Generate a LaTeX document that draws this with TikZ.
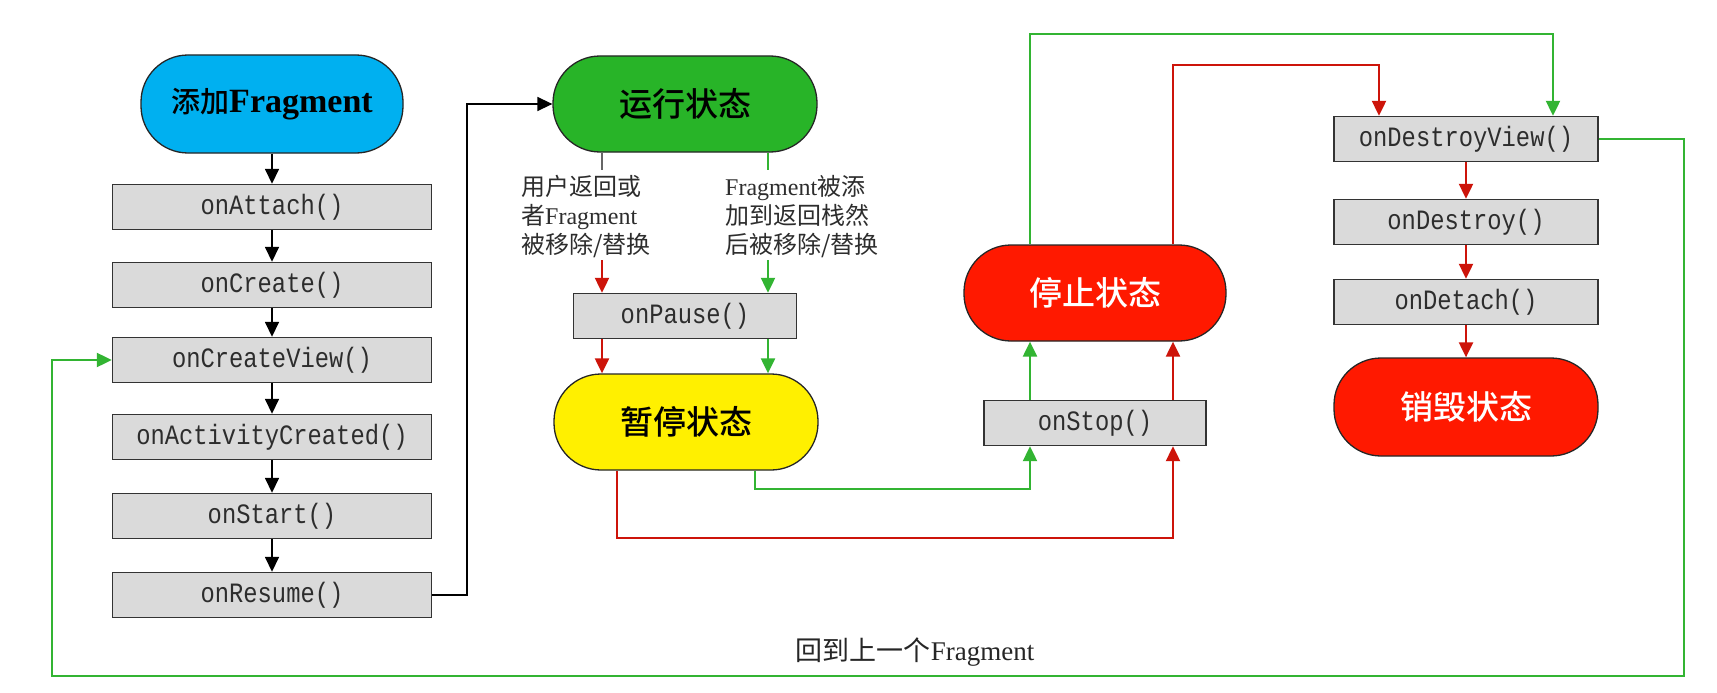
\documentclass[tikz,border=0pt]{standalone}
\usepackage{fontspec}
\usepackage{graphicx}
\setmainfont{Liberation Serif}
\newfontfamily\cjk{Noto Sans CJK SC}
\newfontfamily\cjkm{Noto Sans CJK SC Medium}
\newfontfamily\monof{Liberation Mono}
\usetikzlibrary{arrows.meta}
\definecolor{cyanfill}{RGB}{0,176,240}
\definecolor{greenfill}{RGB}{40,180,40}
\definecolor{yellowfill}{RGB}{255,240,0}
\definecolor{redfill}{RGB}{255,25,0}
\definecolor{redline}{RGB}{205,20,10}
\definecolor{greenline}{RGB}{50,180,50}
\definecolor{boxgray}{RGB}{218,218,218}
\definecolor{txtgray}{RGB}{45,45,45}
\newcommand{\mtx}[1]{\scalebox{0.85}[1]{#1}}
\begin{document}
\begin{tikzpicture}[x=1pt,y=-1pt,
 state/.style={rectangle, rounded corners=47pt, draw=black!85, line width=1.3pt,
   minimum width=264pt, minimum height=96pt, inner sep=0pt,
   font=\cjkm\fontsize{33}{33}\selectfont},
 method/.style={rectangle, draw=black!80, fill=boxgray, line width=1.4pt,
   minimum height=45pt, inner sep=0pt, text=txtgray,
   font=\monof\fontsize{28}{28}\selectfont},
 tip/.style={-{Triangle[length=15pt,width=14pt]}},
 blk/.style={draw=black, line width=1.6pt},
 rd/.style={draw=redline, line width=2.2pt},
 gr/.style={draw=greenline, line width=2.2pt},
 gy/.style={draw=black!60, line width=1.6pt},
 lbl/.style={align=left, inner sep=0pt, text=txtgray, font=\fontsize{24}{29}\selectfont},
]
\useasboundingbox (0,0) rectangle (1717,693);
\fill[white] (0,0) rectangle (1717,693);

% left column
\node[state, fill=cyanfill, minimum width=262pt, minimum height=98pt] (add) at (272,104)
  {{\fontsize{29}{29}\selectfont 添加}{\rmfamily\bfseries\fontsize{34}{34}\selectfont Fragment}};
\node[method, minimum width=319pt] (oat) at (272,207) {\mtx{onAttach()}};
\node[method, minimum width=319pt] (ocr) at (272,285) {\mtx{onCreate()}};
\node[method, minimum width=319pt] (ocv) at (272,360) {\mtx{onCreateView()}};
\node[method, minimum width=319pt] (oac) at (272,437) {\mtx{onActivityCreated()}};
\node[method, minimum width=319pt] (ost) at (272,516) {\mtx{onStart()}};
\node[method, minimum width=319pt] (ores) at (272,595) {\mtx{onResume()}};

% middle
\node[state, fill=greenfill] (run) at (685,104) {运行状态};
\node[method, minimum width=223pt] (opa) at (685,316) {\mtx{onPause()}};
\node[state, fill=yellowfill] (pause) at (686,422) {暂停状态};
\node[lbl, anchor=north west] (l1) at (521,175)
  {{\cjk 用户返回或}\\{\cjk 者}Fragment\\{\cjk 被移除/替换}};
\node[lbl, anchor=north west] (l2) at (725,175)
  {Fragment{\cjk 被添}\\{\cjk 加到返回栈然}\\{\cjk 后被移除/替换}};

% stop
\node[state, fill=redfill, text=white, minimum width=262pt] (stop) at (1095,293) {停止状态};
\node[method, minimum width=222pt] (osp) at (1095,423) {\mtx{onStop()}};

% right column
\node[method, minimum width=264pt] (odv) at (1466,139) {\mtx{onDestroyView()}};
\node[method, minimum width=264pt] (ody) at (1466,222) {\mtx{onDestroy()}};
\node[method, minimum width=264pt] (odt) at (1466,302) {\mtx{onDetach()}};
\node[state, fill=redfill, text=white, minimum height=98pt] (dead) at (1466,407) {销毁状态};

\node[inner sep=0pt, text=black!85, font=\fontsize{27}{27}\selectfont] (back) at (915,652)
  {{\cjk 回到上一个}Fragment};

% coordinates
\coordinate (xk) at (467,0);
\coordinate (xa) at (602,170);
\coordinate (xb) at (768,170);
\coordinate (ya) at (602,260);
\coordinate (yb) at (768,260);
\coordinate (pg) at (755,489);
\coordinate (pr) at (617,538);
\coordinate (xg) at (1030,0);
\coordinate (xr) at (1173,0);
\coordinate (tg) at (1030,34);
\coordinate (tr) at (1173,65);
\coordinate (dg) at (1553,0);
\coordinate (dr) at (1379,0);
\coordinate (c1) at (1684,676);
\coordinate (c2) at (52,676);

% black chain
\draw[blk, tip] (add) -- (oat);
\draw[blk, tip] (oat) -- (ocr);
\draw[blk, tip] (ocr) -- (ocv);
\draw[blk, tip] (ocv) -- (oac);
\draw[blk, tip] (oac) -- (ost);
\draw[blk, tip] (ost) -- (ores);
\draw[blk, tip] (ores.east) -| (xk |- run.west) -- (run.west);

% run -> pause
\draw[gy] (xa |- run.south) -- (xa);
\draw[gr] (xb |- run.south) -- (xb);
\draw[rd, tip] (ya) -- (ya |- opa.north);
\draw[gr, tip] (yb) -- (yb |- opa.north);
\draw[rd, tip] (ya |- opa.south) -- (ya |- pause.north);
\draw[gr, tip] (yb |- opa.south) -- (yb |- pause.north);

% pause -> stop
\draw[gr, tip] (pg |- pause.south) -- (pg) -| (xg |- osp.south);
\draw[rd, tip] (pr |- pause.south) -- (pr) -| (xr |- osp.south);
\draw[gr, tip] (xg |- osp.north) -- (xg |- stop.south);
\draw[rd, tip] (xr |- osp.north) -- (xr |- stop.south);

% stop -> destroy
\draw[gr, tip] (xg |- stop.north) -- (tg) -| (dg |- odv.north);
\draw[rd, tip] (xr |- stop.north) -- (tr) -| (dr |- odv.north);
\draw[rd, tip] (odv) -- (ody);
\draw[rd, tip] (ody) -- (odt);
\draw[rd, tip] (odt) -- (dead);

% back loop
\draw[gr, tip] (odv.east) -| (c1) -- (c2) |- (ocv.west);
\end{tikzpicture}
\end{document}
